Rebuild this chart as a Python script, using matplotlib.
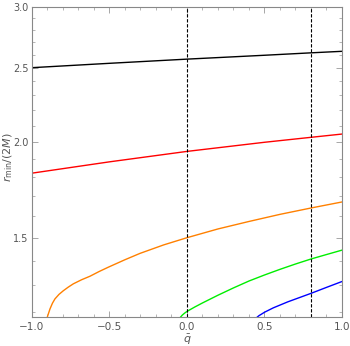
import numpy as np
import matplotlib
matplotlib.use("Agg")
import matplotlib.pyplot as plt
from matplotlib.ticker import FixedLocator, FuncFormatter, NullFormatter

# curves: q values and r_min/(2M)
q_black = [-1.0, -0.5, 0.0, 0.5, 0.8, 1.0]
r_black = [2.500, 2.533, 2.565, 2.595, 2.614, 2.626]

q_red = [-1.0, -0.5, 0.0, 0.5, 0.8, 1.0]
r_red = [1.821, 1.884, 1.944, 1.998, 2.028, 2.048]

q_orange = [-0.901, -0.884, -0.868, -0.852, -0.826, -0.798, -0.766, -0.733, -0.68, -0.626,
            -0.567, -0.507, -0.4, -0.303, -0.15, 0.0, 0.2, 0.4, 0.6, 0.8, 1.0]
r_orange = [1.182, 1.211, 1.232, 1.248, 1.265, 1.279, 1.293, 1.306, 1.322, 1.336,
            1.355, 1.373, 1.404, 1.431, 1.468, 1.500, 1.540, 1.575, 1.609, 1.640, 1.670]

q_green = [-0.041, -0.03, -0.015, 0.0, 0.05, 0.1, 0.2, 0.3, 0.4, 0.5, 0.6, 0.7, 0.8, 0.9, 1.0]
r_green = [1.182, 1.189, 1.196, 1.202, 1.218, 1.233, 1.262, 1.290, 1.317, 1.341, 1.364, 1.386,
           1.407, 1.426, 1.445]

q_blue = [0.454, 0.465, 0.48, 0.5, 0.557, 0.65, 0.8, 0.9, 1.0]
r_blue = [1.182, 1.187, 1.192, 1.199, 1.215, 1.237, 1.269, 1.292, 1.315]

q_marks = [0.0, 0.8]

x_ticks = [-1.0, -0.5, 0.0, 0.5, 1.0]
y_ticks = [1.5, 2.0, 2.5, 3.0]

fig = plt.figure(figsize=(3.5, 3.46), dpi=100)
ax = fig.add_axes([0.0914, 0.0838, 0.8857, 0.896])

ax.plot(q_black, r_black, color="black", lw=1.0)
ax.plot(q_red, r_red, color="#ff0000", lw=1.0)
ax.plot(q_orange, r_orange, color="#ff8000", lw=1.0)
ax.plot(q_green, r_green, color="#00ee00", lw=1.0)
ax.plot(q_blue, r_blue, color="#0000ff", lw=1.0)

for qm in q_marks:
    ax.axvline(qm, color="black", lw=0.8, ls=(0, (3, 1.5)))

ax.set_yscale("log")
ax.set_xlim(-1.0, 1.0)
ax.set_ylim(1.182, 3.0)

ax.xaxis.set_major_locator(FixedLocator(x_ticks))
ax.xaxis.set_minor_locator(FixedLocator(np.arange(-1.0, 1.01, 0.1)))
ax.yaxis.set_major_locator(FixedLocator(y_ticks))
ax.yaxis.set_minor_locator(FixedLocator(np.arange(1.2, 3.0, 0.1)))
ax.xaxis.set_major_formatter(FuncFormatter(lambda v, p: ("%.1f" % v).replace("-", "\u2212")))
ax.yaxis.set_major_formatter(FuncFormatter(lambda v, p: "%.1f" % v))
ax.yaxis.set_minor_formatter(NullFormatter())

gray = "#555555"
ax.tick_params(which="both", direction="in", top=True, right=True,
               colors="#999999", labelcolor=gray, labelsize=7.5)
ax.tick_params(axis="y", labelsize=7, pad=2.5)
ax.tick_params(which="major", length=4, width=0.6)
ax.tick_params(which="minor", length=2, width=0.5)
for s in ax.spines.values():
    s.set_color("#888888")
    s.set_linewidth(0.8)

ax.set_xlabel(r"$\bar{q}$", color=gray, fontsize=8, labelpad=1)
ax.set_ylabel(r"$r_{\rm min}/(2M)$", color=gray, fontsize=8)
ax.yaxis.set_label_coords(-0.056, 0.516)

fig.savefig("out.png", dpi=100)
